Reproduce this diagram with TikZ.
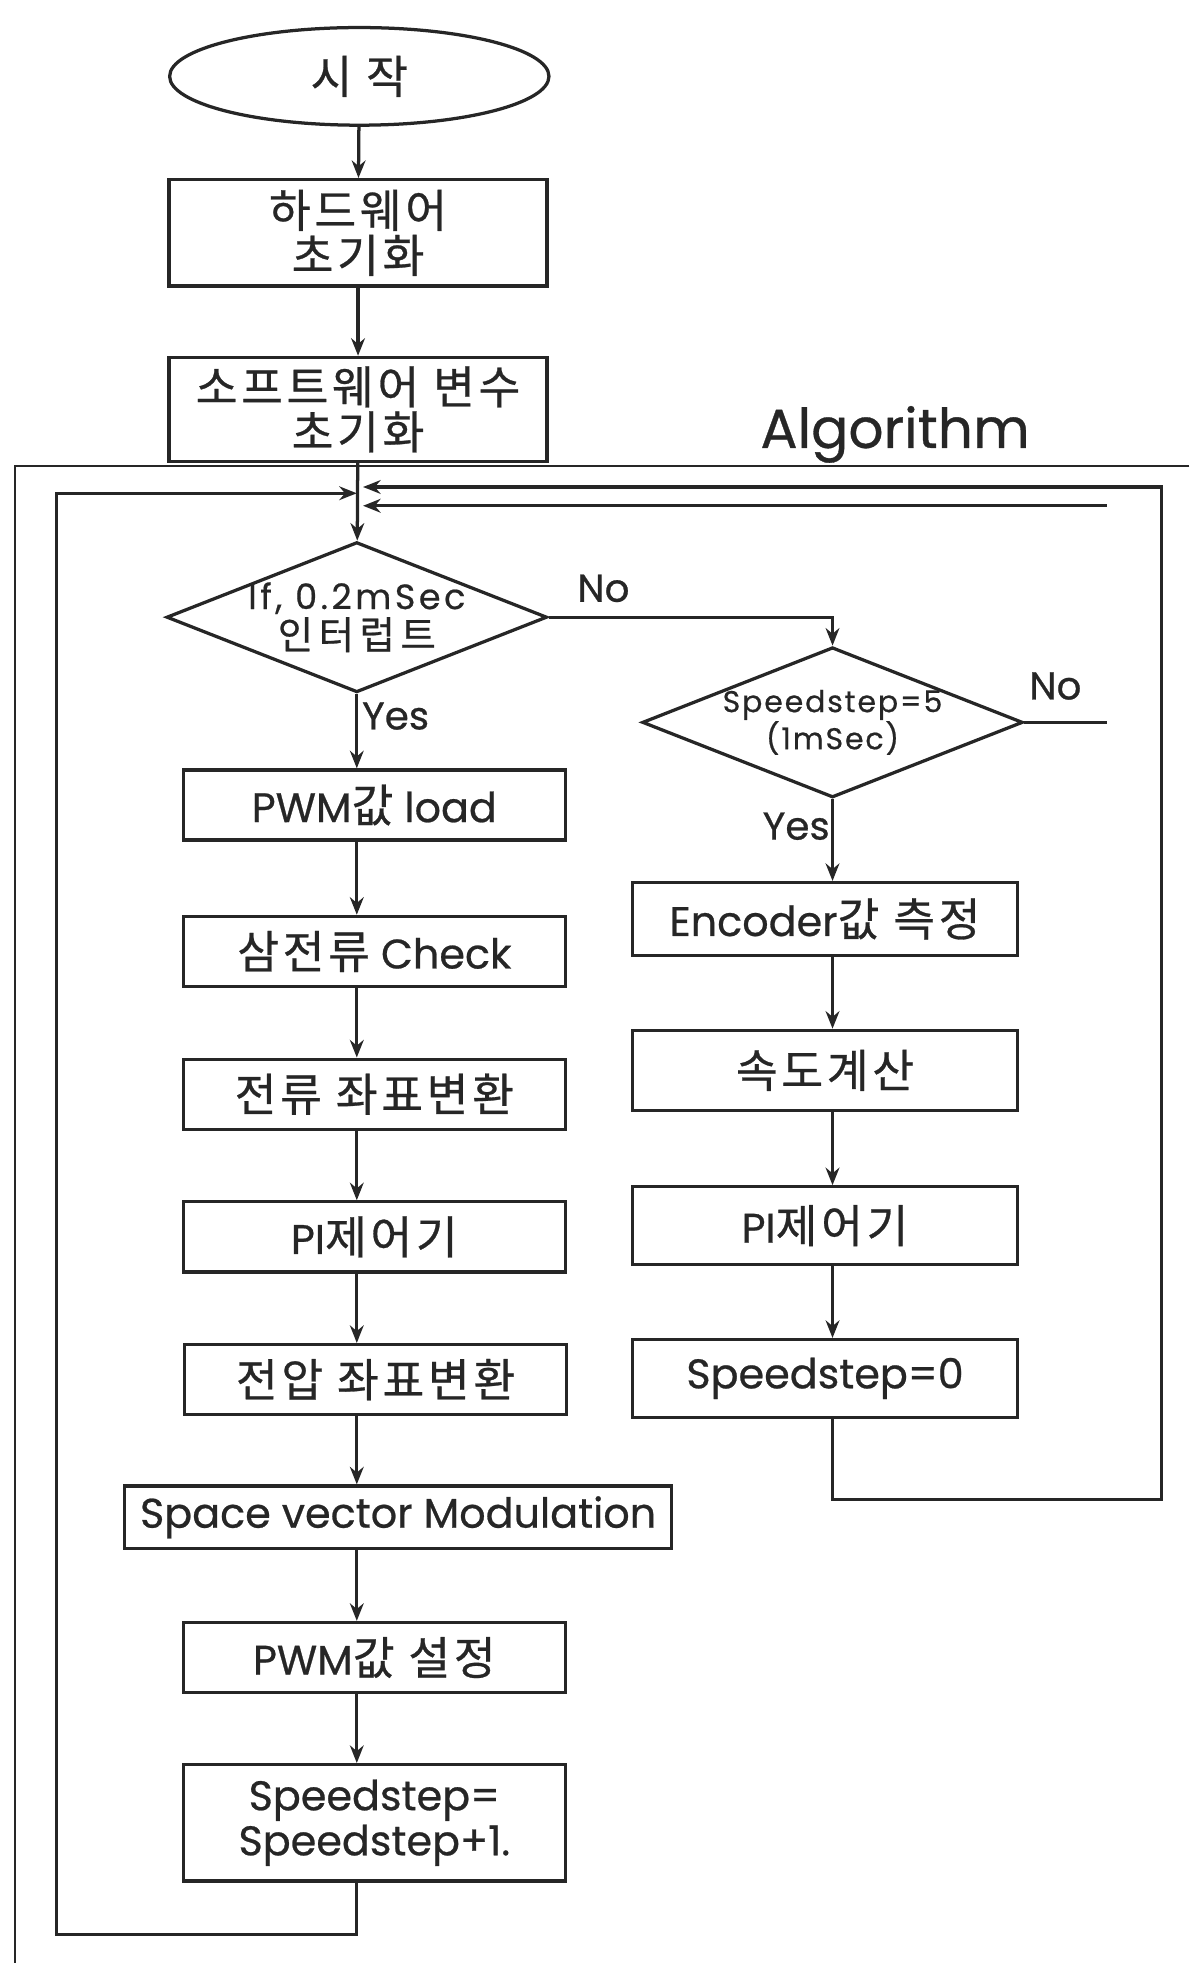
\documentclass[tikz,border=0pt]{standalone}
\usepackage{fontspec}
\setmainfont{Poppins}[FakeBold=0.6]
\newfontfamily\kr[Scale=1.1, LetterSpace=8, FakeBold=0.6]{Noto Sans CJK KR}
\usetikzlibrary{shapes.geometric,arrows.meta}

\begin{document}
\begin{tikzpicture}[
  x=1pt, y=-1pt,
  color=black!85,
  line width=2.6pt,
  every node/.style={align=center, inner sep=0pt, font=\fontsize{33}{36}\selectfont},
  procbox/.style={draw, minimum width=305, minimum height=56},
  decision/.style={draw, diamond, aspect=2.5, inner sep=-18pt, minimum width=304, minimum height=120},
  terminal/.style={draw, ellipse, minimum width=303, minimum height=78},
  arrow/.style={-{Stealth[length=14pt,width=11pt]}},
  lbl/.style={font=\fontsize{31}{34}\selectfont}
]
\useasboundingbox (0,0) rectangle (950,1568);

% frame of the algorithm part
\draw[line width=1.4pt] (950,372) -| (12,1568);
\node[font=\fontsize{44}{48}\selectfont] (title) at (715,347) {Algorithm};

% start and initialisation
\node[terminal] (start) at (287,61) {{\kr 시 작}};
\node[procbox, minimum width=302, minimum height=85] (hw) at (286,186) {{\kr 하드웨어}\\{\kr 초기화}};
\node[procbox, minimum width=302, minimum height=83] (sw) at (286,327) {{\kr 소프트웨어 변수}\\{\kr 초기화}};

% decisions
\node[decision, font=\fontsize{28}{32}\selectfont\addfontfeature{LetterSpace=10}] (irq) at (285,493)
  {If, 0.2mSec\\{\kr\addfontfeature{LetterSpace=14}인터럽트}};
\node[decision, font=\fontsize{24}{27}\selectfont\addfontfeature{LetterSpace=6}] (spd5) at (665,577)
  {Speedstep=5\\(1mSec)};

% current loop
\node[procbox] (pwmload) at (299,643) {PWM{\kr 값} load};
\node[procbox] (iabc) at (299,760) {{\kr 삼전류} Check};
\node[procbox] (idq) at (299,874) {{\kr 전류 좌표변환}};
\node[procbox] (pic) at (299,988) {PI{\kr 제어기}};
\node[procbox] (vdq) at (300,1102) {{\kr 전압 좌표변환}};
\node[procbox, minimum width=437, minimum height=50] (svm) at (318,1212) {Space vector Modulation};
\node[procbox] (pwmset) at (299,1324) {PWM{\kr 값 설정}};
\node[procbox, minimum height=93] (sstep) at (299,1456) {Speedstep=\\Speedstep+1.};

% speed loop
\node[procbox, minimum width=308, minimum height=58] (enc) at (659,734) {Encoder{\kr 값 측정}};
\node[procbox, minimum width=308, minimum height=64] (speed) at (659,855) {{\kr 속도계산}};
\node[procbox, minimum width=308, minimum height=62] (pis) at (659,979) {PI{\kr 제어기}};
\node[procbox, minimum width=308, minimum height=62] (szero) at (659,1101) {Speedstep=0};

% branch labels
\node[lbl] (no1) at (482,470) {No};
\node[lbl] (yes1) at (316,572) {Yes};
\node[lbl] (no2) at (843,548) {No};
\node[lbl] (yes2) at (636,660) {Yes};

\coordinate (joinL) at (285,394);
\coordinate (joinR) at (290,389);
\coordinate (joinN) at (290,404);
\coordinate (loopL) at (45,1545);
\coordinate (loopR) at (928,1198);
\coordinate (nostub) at (884,577);
\coordinate (noback) at (884,404);

\draw[arrow] (start) -- (hw);
\draw[arrow] (hw) -- (sw);
\draw[arrow] (sw) -- (irq);
\draw[arrow] (irq.east) -| (spd5.north);
\draw[arrow] (irq.south) -- (irq.south |- pwmload.north);
\foreach \a/\b in {pwmload/iabc, iabc/idq, idq/pic, pic/vdq, vdq/svm, svm/pwmset, pwmset/sstep}
  \draw[arrow] (irq.south |- \a.south) -- (irq.south |- \b.north);
\draw[arrow] (spd5.south) -- (spd5.south |- enc.north);
\foreach \a/\b in {enc/speed, speed/pis, pis/szero}
  \draw[arrow] (spd5.south |- \a.south) -- (spd5.south |- \b.north);

% return paths
\draw[arrow] (irq.south |- sstep.south) |- (loopL) |- (joinL);
\draw[arrow] (spd5.south |- szero.south) |- (loopR) |- (joinR);
\draw (spd5.east) -- (nostub);
\draw[arrow] (noback) -- (joinN);
\end{tikzpicture}
\end{document}
